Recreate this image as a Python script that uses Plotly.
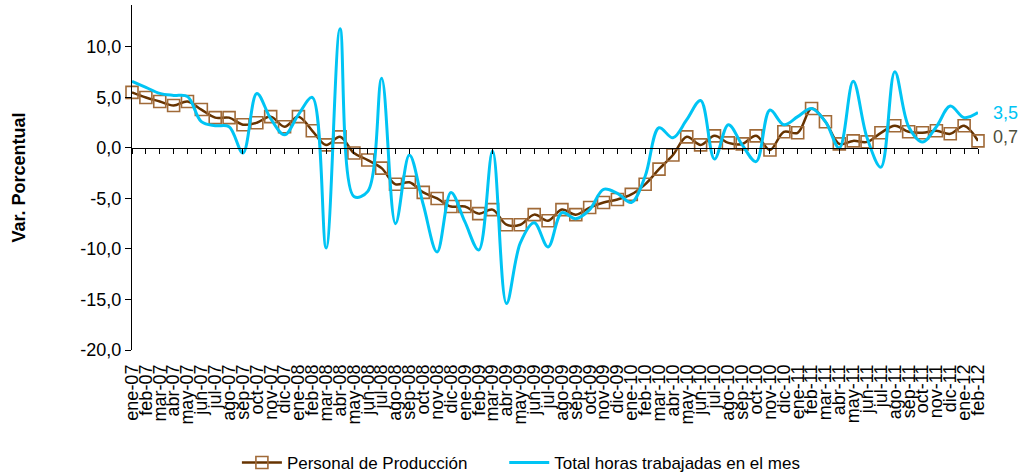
import plotly.graph_objects as go

months = ["ene", "feb", "mar", "abr", "may", "jun", "jul", "ago", "sep", "oct", "nov", "dic"]
years = ["07", "08", "09", "10", "11", "12"]
categories = [f"{m}-{y}" for y in years for m in months][:62]

personal = [5.5, 5.0, 4.6, 4.2, 4.6, 3.8, 3.0, 3.0, 2.3, 2.5, 3.1, 2.1,
            3.1, 1.7, 0.3, 1.1, -0.5, -1.2, -2.0, -3.6, -3.4, -4.4, -5.0, -5.8,
            -5.8, -6.5, -6.1, -7.6, -7.6, -6.6, -7.2, -6.1, -6.6, -5.9, -5.4, -5.1,
            -4.6, -3.6, -2.1, -0.7, 1.1, 0.3, 1.2, 0.5, 0.4, 1.2, -0.2, 1.6,
            1.5, 3.9, 2.6, 0.4, 0.7, 0.6, 1.5, 2.2, 1.6, 1.5, 1.7, 1.4,
            2.2, 0.7]

horas = [6.6, 6.0, 5.4, 5.2, 5.1, 2.6, 2.2, 2.1, -0.5, 5.4, 2.9, 1.3,
         3.3, 5.0, -9.9, 11.8, -4.8, -4.3, 6.9, -7.5, -0.7, -5.6, -10.3, -4.4,
         -7.3, -10.1, -0.3, -15.4, -9.4, -7.4, -9.8, -6.4, -7.0, -6.1, -4.1, -4.5,
         -5.4, -2.8, 2.0, 1.0, 2.8, 4.7, -1.1, 2.3, 0.3, -1.35, 3.75, 2.3,
         3.1, 3.9, 2.6, 0.0, 6.6, 1.0, -1.9, 7.55, 2.1, 0.6, 2.1, 4.15,
         3.0, 3.5]

y_ticks = [-20, -15, -10, -5, 0, 5, 10]
y_ticktext = [f"{v:.1f}".replace(".", ",") for v in y_ticks]
y_min, y_max = -20, 14.15

FONT = "Liberation Sans, Arial, sans-serif"
BROWN_LINE = "#663300"
BROWN_MARK = "#A06A38"
CYAN = "#00C4F4"
LABEL_DARK = "#4F4F3C"

fig = go.Figure()

fig.add_trace(go.Scatter(
    x=categories, y=personal, name="Personal de Producción",
    mode="lines+markers", xaxis="x", yaxis="y", legend="legend",
    line=dict(color=BROWN_LINE, width=2.5, shape="spline", smoothing=1),
    marker=dict(symbol="square-open", size=12, color=BROWN_MARK, line=dict(width=1.6, color=BROWN_MARK)),
    cliponaxis=False,
))
fig.add_trace(go.Scatter(
    x=categories, y=horas, name="Total horas trabajadas en el mes",
    mode="lines", xaxis="x2", yaxis="y", legend="legend2",
    line=dict(color=CYAN, width=3, shape="spline", smoothing=1),
    cliponaxis=False,
))

zero_pos = (0 - y_min) / (y_max - y_min)
legend_style = dict(orientation="h", y=-0.3275, yanchor="middle", xanchor="left",
                    font=dict(family=FONT, size=17, color="black"), itemwidth=40,
                    bgcolor="rgba(0,0,0,0)")

fig.update_layout(
    width=1020, height=475,
    margin=dict(l=132, r=42, t=5, b=125, autoexpand=False),
    paper_bgcolor="white", plot_bgcolor="white",
    font=dict(family=FONT, size=18, color="black"),
    showlegend=True,
    legend=dict(x=0.124, **legend_style),
    legend2=dict(x=0.44, **legend_style),
    xaxis=dict(type="category", categoryorder="array", categoryarray=categories,
               range=[0, len(categories) - 1], showline=False, showgrid=False, zeroline=False,
               tickmode="linear", tick0=0, dtick=1, automargin=False,
               ticks="", tickangle=-90, tickfont=dict(family=FONT, size=18, color="black"),
               ticklabelstandoff=10),
    xaxis2=dict(type="category", categoryorder="array", categoryarray=categories,
                range=[0, len(categories) - 1], overlaying="x", anchor="free", position=zero_pos,
                side="bottom", showline=True, linecolor="black", linewidth=1.3,
                tickmode="linear", tick0=0, dtick=1, automargin=False,
                ticks="outside", ticklen=5, tickwidth=1.3, tickcolor="black",
                showticklabels=False, showgrid=False, zeroline=False),
    yaxis=dict(range=[y_min, y_max], tickmode="array", tickvals=y_ticks, ticktext=y_ticktext,
               showline=True, linecolor="black", linewidth=1.3, automargin=False,
               ticks="outside", ticklen=6, tickwidth=1.3, tickcolor="black",
               showgrid=False, zeroline=False,
               tickfont=dict(family=FONT, size=18, color="black"),
               title=dict(text="<b>Var. Porcentual</b>", font=dict(family=FONT, size=18, color="black"),
                          standoff=49)),
)

fig.add_annotation(x=categories[-1], y=horas[-1], xref="x", yref="y",
                   text=f"{horas[-1]:.1f}".replace(".", ","), showarrow=False,
                   xanchor="left", yanchor="middle", xshift=13, yshift=0,
                   font=dict(family=FONT, size=18, color=CYAN))
fig.add_annotation(x=categories[-1], y=personal[-1], xref="x", yref="y",
                   text=f"{personal[-1]:.1f}".replace(".", ","), showarrow=False,
                   xanchor="left", yanchor="middle", xshift=13, yshift=4,
                   font=dict(family=FONT, size=18, color=LABEL_DARK))

fig.write_html("out.html", config={"displayModeBar": False},
               post_script="document.body.style.margin='0';")
